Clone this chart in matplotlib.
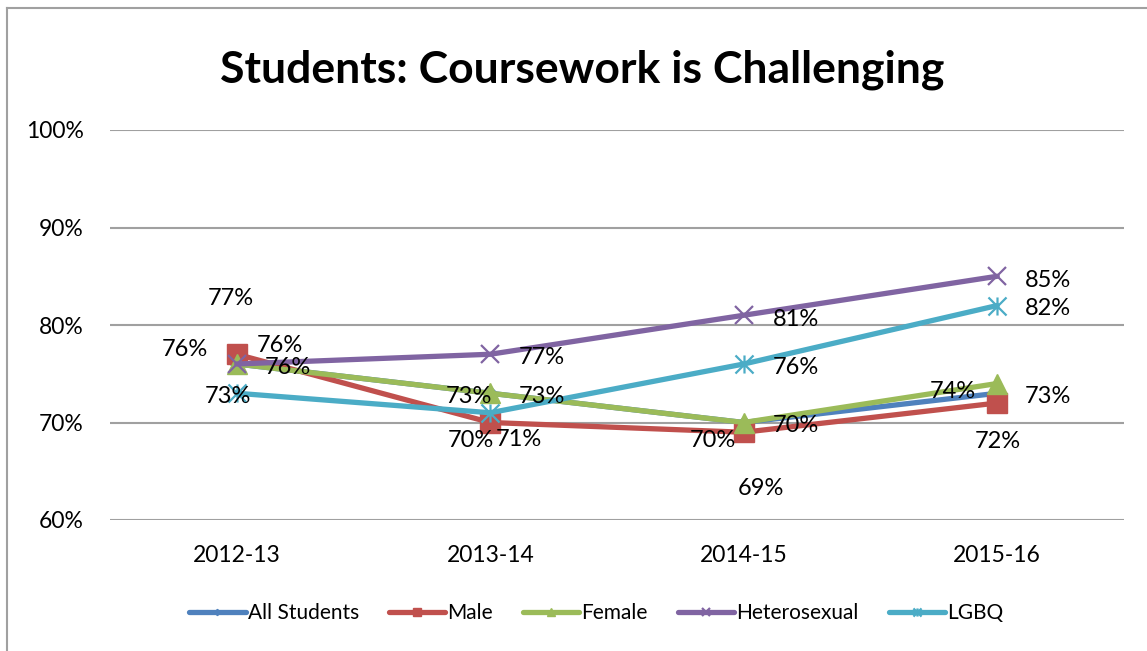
import matplotlib
matplotlib.use('Agg')
import matplotlib.pyplot as plt
from matplotlib.lines import Line2D
from matplotlib.path import Path

plt.rcParams['font.family'] = ['Lato', 'DejaVu Sans']

# Data
years = ['2012-13', '2013-14', '2014-15', '2015-16']
all_students = [76, 73, 70, 73]
male = [77, 70, 69, 72]
female = [76, 73, 70, 74]
heterosexual = [76, 77, 81, 85]
lgbq = [73, 71, 76, 82]

series_names = ['All Students', 'Male', 'Female', 'Heterosexual', 'LGBQ']
series_values = [all_students, male, female, heterosexual, lgbq]

colors = ['#4F81BD', '#C0504D', '#9BBB59', '#8064A2', '#4BACC6']

# Excel-like star marker (x with a vertical bar)
star = Path([(-1, -1), (1, 1), (-1, 1), (1, -1), (0, -1), (0, 1)],
            [Path.MOVETO, Path.LINETO, Path.MOVETO, Path.LINETO, Path.MOVETO, Path.LINETO])
markers = ['D', 's', '^', 'x', star]
msizes = [7, 14, 14, 13, 13]

# label offsets in pixels (dx, dy with y down), per series and year
label_offsets = [
    [(-52, -15), (-21, 3), (-31, 18), (51, 3)],
    [(-6, -56), (-19, 18), (17, 56), (1, 38)],
    [(51, 4), (52, 3), (52, 3), (-44, 8)],
    [(43, -18), (52, 3), (52, 4), (51, 4)],
    [(-9, 3), (29, 27), (52, 4), (51, 3)],
]

fig = plt.figure(figsize=(11.47, 6.51), dpi=100)
ax = fig.add_axes([110 / 1147, 1 - 520 / 651, 1014 / 1147, 390 / 651])

x = list(range(len(years)))
for name, vals, c, m, ms in zip(series_names, series_values, colors, markers, msizes):
    ax.plot(x, vals, color=c, lw=3.8, marker=m, markersize=ms, markeredgecolor=c,
            markerfacecolor=c, markeredgewidth=1.6 if m in ('x', star) else 1,
            label=name, solid_capstyle='round')

for vals, offs in zip(series_values, label_offsets):
    for xi, v, (dx, dy) in zip(x, vals, offs):
        ax.annotate(f'{v}%', (xi, v), xytext=(dx, -dy), textcoords='offset pixels',
                    ha='center', va='center', fontsize=17, color='black')

ax.set_xlim(-0.5, 3.5)
ax.set_ylim(60, 100)
ax.set_yticks([60, 70, 80, 90, 100])
ax.set_yticklabels([f'{t}%' for t in [60, 70, 80, 90, 100]])
ax.set_xticks(x)
ax.set_xticklabels(years)
ax.tick_params(axis='both', length=0, labelsize=16.5)
ax.tick_params(axis='y', pad=19)
ax.tick_params(axis='x', pad=18)
ax.grid(axis='y', color='#A0A0A0', lw=1.5)
ax.set_axisbelow(True)
for s in ax.spines.values():
    s.set_visible(False)

fig.text(0.508, 1 - 70 / 651, 'Students: Coursework is Challenging', ha='center', va='center',
         fontsize=32, fontweight='bold')

fig.legend(loc='center', bbox_to_anchor=(0.52, 1 - 613 / 651), ncol=5, frameon=False,
           fontsize=15, handlelength=2.7, handletextpad=0.1, columnspacing=1.45, markerscale=0.45)

# chart border (left and top visible)
fig.add_artist(Line2D([7 / 1147, 7 / 1147], [0, 1 - 8 / 651], color='#A0A0A0', lw=1.5))
fig.add_artist(Line2D([7 / 1147, 1], [1 - 8 / 651, 1 - 8 / 651], color='#A0A0A0', lw=1.5))

fig.savefig('out.png', dpi=100)
